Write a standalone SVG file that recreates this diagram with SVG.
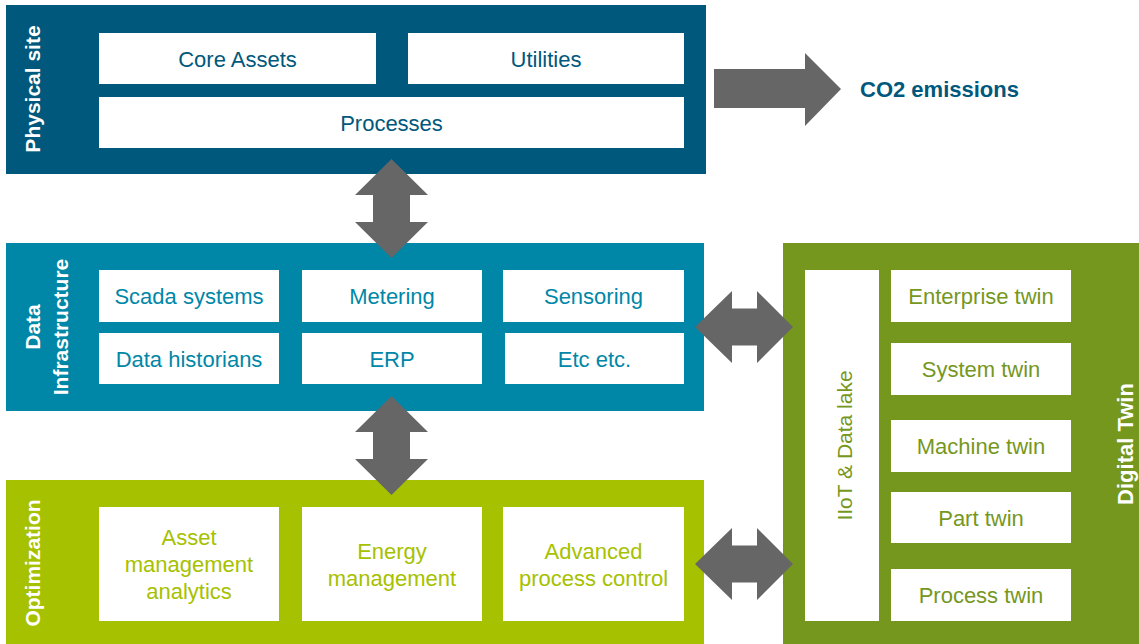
<svg xmlns="http://www.w3.org/2000/svg" width="1139" height="644" viewBox="0 0 1139 644">
<defs>
<style>
.box{fill:#ffffff;}
.t{font-family:"Liberation Sans",Arial,sans-serif;font-size:22px;text-anchor:middle;}
.lbl{font-family:"Liberation Sans",Arial,sans-serif;font-size:21px;font-weight:bold;fill:#ffffff;text-anchor:middle;}
.arr{fill:#666666;}
.c1{fill:#00587c;}
.c2{fill:#0087a8;}
.c3{fill:#a6c100;}
.c4{fill:#76971e;}
</style>
</defs>
<rect width="1139" height="644" fill="#ffffff"/>

<g id="physical-site">
<rect x="6" y="5" width="700" height="169" fill="#00587c"/>
<text class="lbl" transform="translate(40,89) rotate(-90)">Physical site</text>
</g>
<g id="core-assets"><rect class="box" x="99" y="33" width="277" height="51"/><text class="t c1" x="237.5" y="66.5">Core Assets</text></g>
<g id="utilities"><rect class="box" x="408" y="33" width="276" height="51"/><text class="t c1" x="546" y="66.5">Utilities</text></g>
<g id="processes"><rect class="box" x="99" y="97" width="585" height="51"/><text class="t c1" x="391.5" y="130.5">Processes</text></g>

<g id="co2">
<text x="860" y="97" font-family="'Liberation Sans',Arial,sans-serif" font-size="22" font-weight="bold" fill="#00587c">CO2 emissions</text>
</g>

<g id="data-infrastructure">
<rect x="6" y="243" width="698" height="168" fill="#0087a8"/>
<text class="lbl" transform="translate(40,327) rotate(-90)">Data</text>
<text class="lbl" transform="translate(68,327) rotate(-90)">Infrastructure</text>
</g>
<g id="scada"><rect class="box" x="99" y="270" width="180" height="52"/><text class="t c2" x="189" y="304">Scada systems</text></g>
<g id="metering"><rect class="box" x="302" y="270" width="180" height="52"/><text class="t c2" x="392" y="304">Metering</text></g>
<g id="sensoring"><rect class="box" x="503" y="270" width="181" height="52"/><text class="t c2" x="593.5" y="304">Sensoring</text></g>
<g id="historians"><rect class="box" x="99" y="333" width="180" height="51"/><text class="t c2" x="189" y="366.5">Data historians</text></g>
<g id="erp"><rect class="box" x="302" y="333" width="180" height="51"/><text class="t c2" x="392" y="366.5">ERP</text></g>
<g id="etc"><rect class="box" x="505" y="333" width="179" height="51"/><text class="t c2" x="594.5" y="366.5">Etc etc.</text></g>

<g id="optimization">
<rect x="6" y="480" width="698" height="164" fill="#a6c100"/>
<text class="lbl" transform="translate(40,563) rotate(-90)">Optimization</text>
</g>
<g id="asset-mgmt"><rect class="box" x="99" y="507" width="180" height="114"/><text class="t c3" x="189" y="545">Asset</text><text class="t c3" x="189" y="572">management</text><text class="t c3" x="189" y="599">analytics</text></g>
<g id="energy-mgmt"><rect class="box" x="302" y="507" width="180" height="114"/><text class="t c3" x="392" y="558.5">Energy</text><text class="t c3" x="392" y="585.5">management</text></g>
<g id="apc"><rect class="box" x="503" y="507" width="181" height="114"/><text class="t c3" x="593.5" y="558.5">Advanced</text><text class="t c3" x="593.5" y="585.5">process control</text></g>

<g id="digital-twin">
<rect x="783" y="243" width="356" height="401" fill="#76971e"/>
<text class="lbl" style="font-size:22px" transform="translate(1133,444) rotate(-90)">Digital Twin</text>
</g>
<g id="iiot"><rect class="box" x="805" y="270" width="74" height="351"/><text class="t c4" style="font-size:21px" transform="translate(851.5,445.5) rotate(-90)">IIoT &amp; Data lake</text></g>
<g id="enterprise-twin"><rect class="box" x="891" y="270" width="180" height="52"/><text class="t c4" x="981" y="304">Enterprise twin</text></g>
<g id="system-twin"><rect class="box" x="891" y="343" width="180" height="52"/><text class="t c4" x="981" y="377">System twin</text></g>
<g id="machine-twin"><rect class="box" x="891" y="420" width="180" height="52"/><text class="t c4" x="981" y="454">Machine twin</text></g>
<g id="part-twin"><rect class="box" x="891" y="492" width="180" height="51"/><text class="t c4" x="981" y="525.5">Part twin</text></g>
<g id="process-twin"><rect class="box" x="891" y="569" width="180" height="52"/><text class="t c4" x="981" y="603">Process twin</text></g>

<g id="connectors">
<polygon class="arr" points="714,69 805,69 805,53 841,89 805,126 805,108 714,108"/>
<polygon class="arr" points="391.5,159 428,195 410,195 410,222 428,222 391.5,258 355,222 373,222 373,195 355,195"/>
<polygon class="arr" points="391.5,396 428,432 410,432 410,459 428,459 391.5,495 355,459 373,459 373,432 355,432"/>
<polygon class="arr" points="695,327 732,291 732,308.5 757,308.5 757,291 793,327 757,363 757,345.5 732,345.5 732,363"/>
<polygon class="arr" points="695,564 732,528 732,545.5 757,545.5 757,528 793,564 757,600 757,582.5 732,582.5 732,600"/>
</g>
</svg>
